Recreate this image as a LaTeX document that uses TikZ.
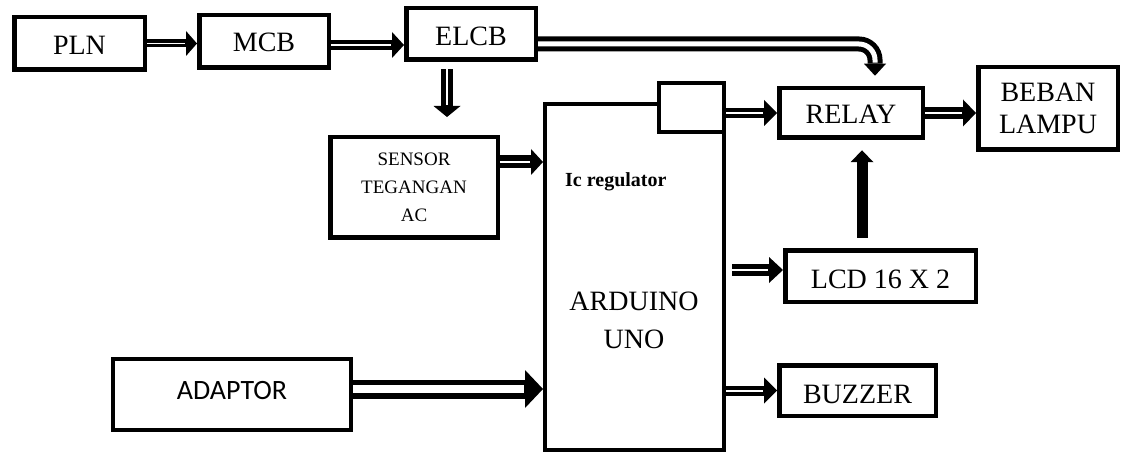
\documentclass[tikz,border=0pt]{standalone}
\usepackage{fontspec}
\setmainfont{Liberation Serif}
\newfontfamily\calib{Carlito}
\usetikzlibrary{arrows.meta,calc,backgrounds}
\begin{document}
\begin{tikzpicture}[x=1pt,y=-1pt,
  box/.style={draw, line width=4.5pt, inner sep=0pt, fill=white, align=center,
    font=\fontsize{28}{32}\selectfont},
  low/.style={text height=#1, text depth=0pt},
  darr/.style n args={4}{line width=#1, -{Triangle[width=#3,length=#4,line width=0pt]},
    postaction={draw=white, line width=#2, -, shorten >=#4+1pt}},
  sarr/.style n args={3}{line width=#1, -{Triangle[width=#2,length=#3,line width=0pt]}}
]
\useasboundingbox (0,0) rectangle (1123,454);

% boxes
\node[box, low=22pt, minimum width=130.5pt, minimum height=52.5pt] (pln) at (79.5,43.5) {PLN};
\node[box, low=21pt, minimum width=129.5pt, minimum height=52.5pt] (mcb) at (264,41.5) {MCB};
\node[box, low=24pt, minimum width=129.5pt, minimum height=51.5pt] (elcb) at (471,34) {ELCB};
\node[box, minimum width=167.5pt, minimum height=100.5pt,
  font=\fontsize{19}{28}\selectfont] (sensor) at (414,187.5) {SENSOR\\TEGANGAN\\AC};
\node[box, line width=4pt, minimum width=178.5pt, minimum height=346pt] (arduino) at (634.25,277) {};
\node[box, line width=4pt, minimum width=64.5pt, minimum height=49pt] (ic) at (691.25,107.5) {};
\node[font=\bfseries\fontsize{20}{24}\selectfont, anchor=base west, inner sep=0pt] (icl) at (565,187) {Ic regulator};
\node[font=\fontsize{28}{38}\selectfont, align=center, inner sep=0pt] (ard) at (634,320) {ARDUINO\\UNO};
\node[box, low=20.5pt, minimum width=143.5pt, minimum height=49.5pt] (relay) at (851,113) {RELAY};
\node[box, minimum width=139.5pt, minimum height=82.5pt] (beban) at (1048,108.5) {BEBAN\\LAMPU};
\node[box, low=25pt, minimum width=190.5pt, minimum height=51.5pt] (lcd) at (880.5,276) {LCD 16 X 2};
\node[box, low=25pt, minimum width=156.5pt, minimum height=50.5pt] (buzzer) at (857.5,390.5) {BUZZER};
\node[box, line width=4pt, minimum width=238pt, minimum height=71pt, text height=18pt, text depth=8pt,
  font=\calib\fontsize{28}{32}\selectfont] (adaptor) at (232,394.5) {ADAPTOR};

% helper coordinates
\coordinate (m1) at ($(mcb.east)+(0,3.5)$);
\coordinate (e1) at ($(elcb.south)+(-24,7.25)$);
\coordinate (s1) at ($(e1 |- sensor.north)+(0,-18)$);
\coordinate (s2) at ($(sensor.east)+(0,-25.5)$);
\coordinate (e2) at ($(elcb.east)+(0,10)$);
\coordinate (r1) at ($(relay.north)+(24,-10.25)$);
\coordinate (l1) at ($(lcd.north)+(-18.5,-10.25)$);
\coordinate (l2) at ($(l1 |- relay.south)+(0,10.25)$);
\coordinate (a1) at ($(lcd.west -| arduino.east)+(6.5,-6)$);
\coordinate (ad1) at ($(adaptor.east)+(0,-5.5)$);

\begin{scope}[on background layer]
\fill[white] (0,0) rectangle (1123,454);
\draw[darr={8pt}{1.5pt}{25pt}{11pt}] (pln.east) -- (pln.east -| mcb.west);
\draw[darr={10pt}{2pt}{26pt}{12pt}] (m1) -- (m1 -| elcb.west);
\draw[darr={12pt}{2pt}{27pt}{11pt}] (e1) -- (s1);
\draw[darr={13pt}{2.5pt}{26pt}{12pt}] (s2) -- (s2 -| arduino.west);
\draw[darr={15pt}{5pt}{22pt}{12pt}, rounded corners=16pt] (e2) -| (r1);
\draw[darr={10pt}{2.5pt}{26pt}{13pt}] (relay.west -| ic.east) -- (relay.west);
\draw[darr={12pt}{2pt}{27pt}{13pt}] (relay.east) -- (relay.east -| beban.west);
\draw[sarr={11pt}{23pt}{12pt}] (l1) -- (l2);
\draw[darr={12pt}{2pt}{26pt}{14pt}] (a1) -- (a1 -| lcd.west);
\draw[darr={10pt}{2pt}{26pt}{13pt}] (buzzer.west -| arduino.east) -- (buzzer.west);
\draw[darr={19pt}{8pt}{38pt}{18pt}] (ad1) -- (ad1 -| arduino.west);
\end{scope}
\end{tikzpicture}
\end{document}
